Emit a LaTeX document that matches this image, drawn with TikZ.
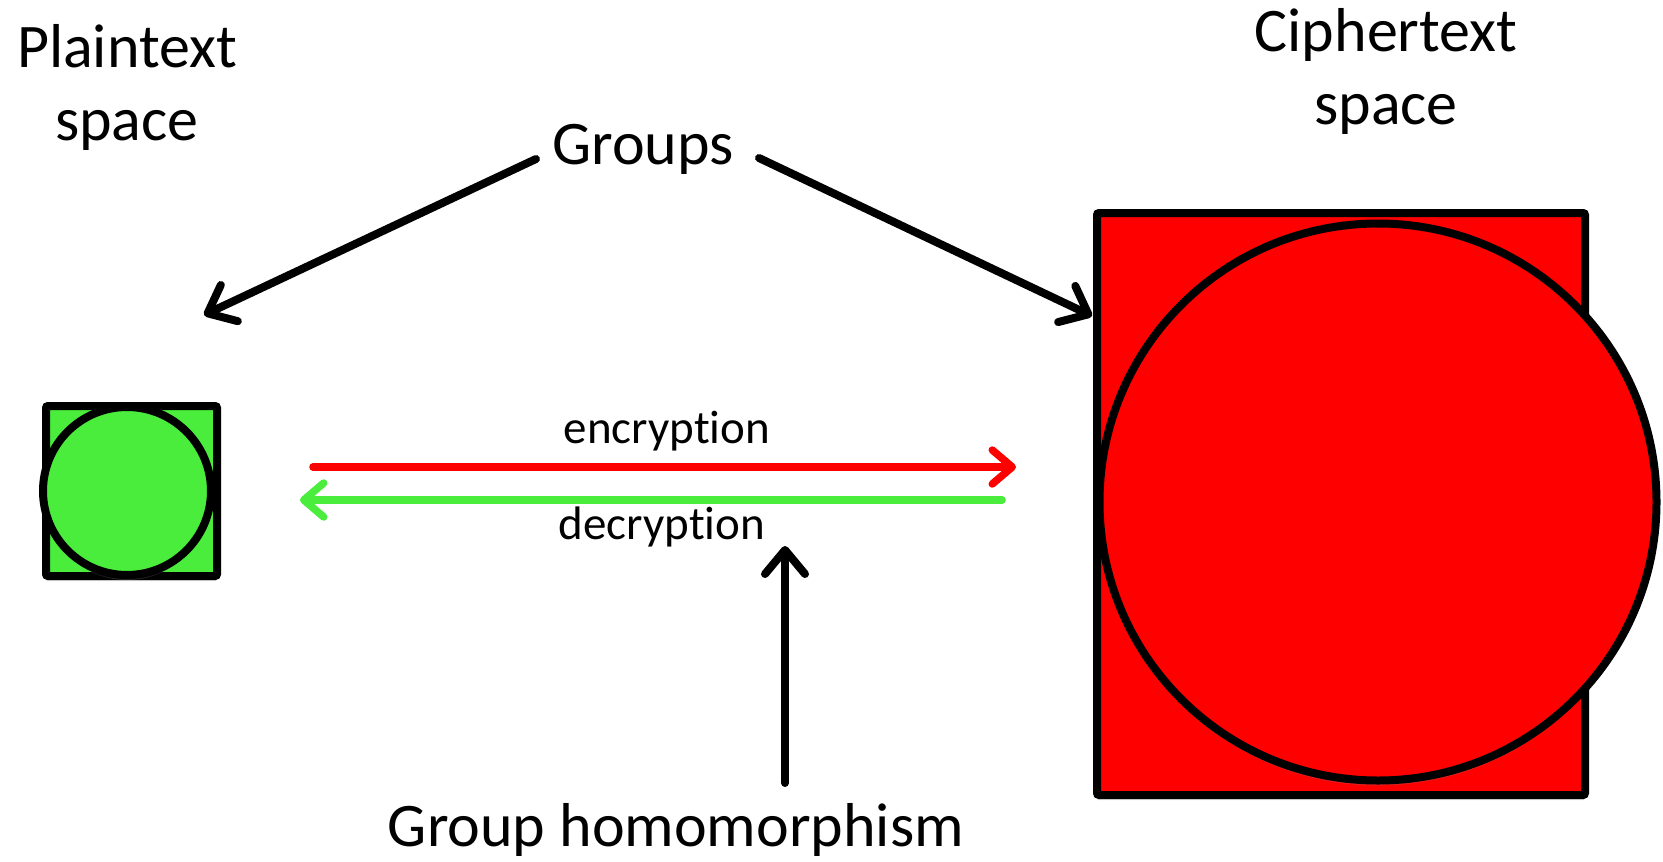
\documentclass[tikz,border=0pt]{standalone}
\usepackage{fontspec}
\setmainfont{Carlito}[Ligatures=CommonOff]
\usetikzlibrary{arrows.meta,shadows}
\definecolor{pgreen}{RGB}{74,237,60}
\definecolor{cred}{RGB}{255,0,0}
\begin{document}
\begin{tikzpicture}[x=1pt,y=-1pt,
  big/.style={font=\fontsize{62}{73}\selectfont, inner sep=0pt, align=center},
  small/.style={font=\fontsize{47}{56}\selectfont, inner sep=0pt},
  blob/.style={draw=black, line width=8pt, rounded corners=2pt,
    drop shadow={opacity=0.25, shadow xshift=0pt, shadow yshift=-5pt}},
  conn/.style={line width=8pt, line cap=round,
    -{Straight Barb[length=24pt,width=40pt,round]}},
  flow/.style={line width=7.5pt, line cap=round,
    -{Straight Barb[length=20pt,width=34pt,round]}}
]
\useasboundingbox (0,0) rectangle (1663,862);

% plaintext space
\node[blob, fill=pgreen, minimum width=171pt, minimum height=170pt] (prect) at (131.5,491) {};
\node[blob, circle, fill=pgreen, minimum size=168pt, inner sep=0pt] (pcirc) at (127,491) {};

% ciphertext space
\node[blob, fill=cred, minimum width=488pt, minimum height=582pt] (crect) at (1341,504) {};
\node[blob, circle, fill=cred, minimum size=557pt, inner sep=0pt] (ccirc) at (1378,502) {};

% labels
\node[big, anchor=base] (ptl) at (127,140) {Plaintext\\space};
\node[big, anchor=base] (ctl) at (1386,124) {Ciphertext\\space};
\node[big, anchor=base] (groups) at (643,164) {Groups};
\node[big, anchor=base] (hom) at (676,846) {Group homomorphism};
\node[small, anchor=base] (enc) at (667,443) {encryption};
\node[small, anchor=base] (dec) at (662,539) {decryption};

% arrow endpoints
\coordinate (gl0) at (536,159);
\coordinate (gl1) at (204,315);
\coordinate (gr0) at (759,158);
\coordinate (gr1) at (1092,316);
\coordinate (h0) at (785,783);
\coordinate (h1) at (785,546);
\coordinate (e0) at (313,467);
\coordinate (e1) at (1016,467);
\coordinate (d0) at (1002,500);
\coordinate (d1) at (300,500);

\draw[conn] (gl0) -- (gl1);
\draw[conn] (gr0) -- (gr1);
\draw[conn] (h0) -- (h1);
\draw[flow, draw=cred] (e0) -- (e1);
\draw[flow, draw=pgreen] (d0) -- (d1);
\end{tikzpicture}
\end{document}
